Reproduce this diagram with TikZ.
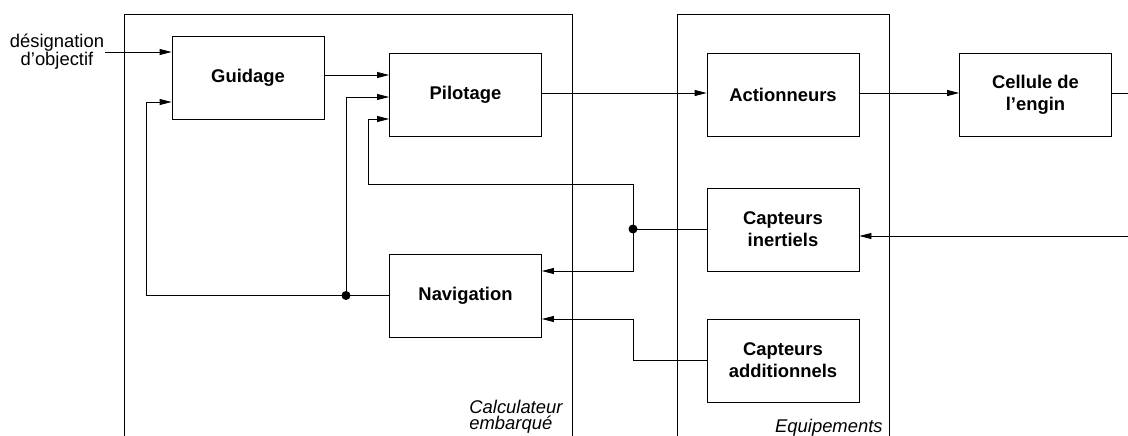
\documentclass[tikz,border=0pt]{standalone}
\usepackage{fontspec}
\setmainfont{Liberation Sans}
\usetikzlibrary{arrows.meta}

\begin{document}
\begin{tikzpicture}[x=1pt, y=-1pt, line width=0.8pt, every node/.style={font=\fontsize{18.4}{16}\selectfont},
		bloc/.style={draw, minimum width=152pt, minimum height=83pt, inner sep=0pt, align=center, font=\fontsize{18.4}{22}\selectfont\bfseries},
		fleche/.style={-{Triangle[length=12pt,width=6pt]}},
		jonction/.style={circle, fill, minimum size=9pt, inner sep=0pt}]
				\useasboundingbox (0,0) rectangle (1128,436);
				\draw (124,450) -- (124,14.5) -- (572,14.5) -- (572,450);
				\draw (677,450) -- (677,14.5) -- (889,14.5) -- (889,450);
				\node [bloc] (guid) at (248,77.5) {Guidage};
				\node [bloc] (pilot) at (465.5,95) {Pilotage};
				\node [bloc] (nav) at (465.5,295.5) {Navigation};
				\node [bloc] (act) at (783,95) {Actionneurs};
				\node [bloc] (cell) at (1035.5,95) {Cellule de\\l’engin};
				\node [bloc] (inert) at (783,229.5) {Capteurs\\inertiels};
				\node [bloc] (addit) at (783,360.5) {Capteurs\\additionnels};
				\node [align=center, inner sep=1pt] (desig) at (57,52) {désignation\\d’objectif};
				\node [font=\fontsize{18.4}{16.5}\selectfont\itshape, align=left, anchor=north west, inner sep=0pt] (calc) at (469,399.5) {Calculateur\\embarqué};
				\node [font=\fontsize{18.4}{16}\selectfont\itshape, anchor=base east, inner sep=0pt] (equip) at (883,432) {Equipements};
				\coordinate (jinert) at (633,229);
				\coordinate (jnav) at (346,295.5);
				\coordinate (retour) at (368,184);
				\coordinate (boucle) at (146,295.5);
				\coordinate (mesure) at (1128,236);
				\coordinate (sortie) at (1128,93);
				\coordinate (navin) at ([yshift=-23.5pt]nav.east);
				\coordinate (guidin) at ([yshift=-24.5pt]guid.west);
				\draw [fleche] (desig.east) -- (desig.east -| guid.west);
				\draw [fleche] ([yshift=2.5pt]guid.east) -- ([yshift=2.5pt]guid.east -| pilot.west);
				\draw [fleche] ([yshift=2pt]pilot.east) -- ([yshift=2pt]pilot.east -| act.west);
				\draw [fleche] ([yshift=2pt]act.east) -- ([yshift=2pt]act.east -| cell.west);
				\draw ([yshift=2pt]cell.east) -- (sortie);
				\draw [fleche] (mesure) -- (mesure -| inert.east);
				\draw (inert.west |- jinert) -- (jinert);
				\draw [fleche] (jinert) |- ([yshift=24.5pt]nav.east);
				\draw [fleche] (jinert) |- (retour) |- ([yshift=-24pt]pilot.west);
				\draw [fleche] (addit.west) -| (jinert |- navin) -- (navin);
				\draw [fleche] (nav.west) -- (boucle) |- (guidin);
				\draw [fleche] (jnav) |- ([yshift=-2pt]pilot.west);
				\node [jonction] (dotinert) at (jinert) {};
				\node [jonction] (dotnav) at (jnav) {};
			\end{tikzpicture}
\end{document}
